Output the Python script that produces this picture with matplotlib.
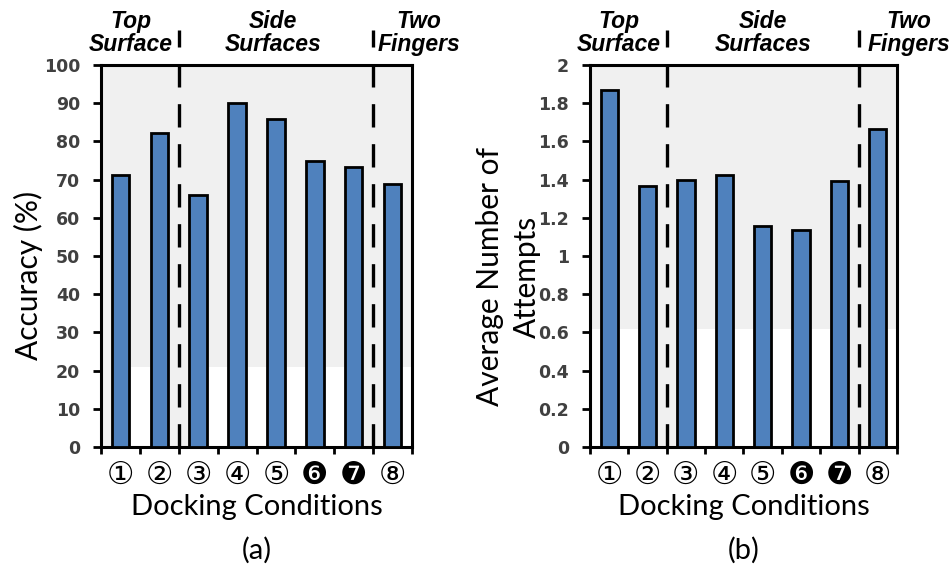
import matplotlib
matplotlib.use("Agg")
import matplotlib.pyplot as plt
import matplotlib.transforms as mtransforms
import numpy as np

conditions = ["①", "②", "③", "④", "⑤", "❻", "❼", "⑧"]
accuracy = [71.2, 82.3, 66.0, 90.2, 85.8, 75.0, 73.2, 68.8]
attempts = [1.87, 1.365, 1.397, 1.423, 1.16, 1.135, 1.395, 1.665]
groups = ["Top\nSurface", "Side\nSurfaces", "Two\nFingers"]
dividers = [1.5, 6.5]

bar_color = "#4F81BD"
grey = "#f0f0f0"
width = 0.45
x = np.arange(len(conditions))

W, H = 952, 565
fig = plt.figure(figsize=(W / 100, H / 100), dpi=100)
ax1 = fig.add_axes([0.1061, 0.2088, 0.3267, 0.676])
ax2 = fig.add_axes([0.6197, 0.2088, 0.3225, 0.676])


def ftext(px, py, s, **kw):
    # place text by pixel position (origin top-left)
    fig.text(px / W, 1 - py / H, s, ha="center", va="center", **kw)


def panel(ax, vals, ymax, yticks, shade_to, label_x, left_band, tag):
    ax.set_xlim(-0.5, len(vals) - 0.5)
    ax.set_ylim(0, ymax)
    ax.set_facecolor("white")
    # grey plot area above the cut, and grey strips between groups below it
    ax.axhspan(shade_to, ymax, color=grey, zorder=0, lw=0)
    for d in dividers:
        ax.fill_between([d - 0.5 + width / 2, d + 0.5 - width / 2], 0, shade_to,
                        color=grey, zorder=0, lw=0)
    if left_band:
        ax.fill_between([-0.5, -width / 2], 0, shade_to, color=grey, zorder=0, lw=0)

    ax.bar(x, vals, width=width, color=bar_color, edgecolor="black",
           linewidth=2.0, zorder=3)

    tr = mtransforms.blended_transform_factory(ax.transData, ax.transAxes)
    for d in dividers:
        ax.plot([d, d], [0, 1.092], transform=tr, color="black", lw=2.4,
                dashes=(7, 5), clip_on=False, zorder=4)
    for g, gx in zip(groups, label_x):
        ax.text(gx, 1.083, g, transform=tr, ha="center", va="center",
                fontsize=16.5, fontweight="bold", fontstyle="italic",
                family="Liberation Sans", linespacing=1.0)

    for s in ax.spines.values():
        s.set_linewidth(2.2)
    ax.set_xticks(np.arange(-0.5, len(vals), 1.0))
    ax.set_xticklabels([])
    ax.set_xticks(x, minor=True)
    ax.set_xticklabels(conditions, minor=True, fontsize=22, family="DejaVu Sans")
    ax.tick_params(axis="x", which="major", direction="out", length=5, width=2)
    ax.tick_params(axis="x", which="minor", length=0, pad=10)
    ax.set_yticks(yticks)
    ax.set_yticklabels([f"{t:g}" for t in yticks], fontsize=12.5,
                       fontweight="bold", color="#404040", family="DejaVu Sans")
    ax.tick_params(axis="y", direction="out", length=6, width=2, pad=9)
    ax.set_xlabel("Docking Conditions", fontsize=21, family="Lato", labelpad=3)
    ax.text(0.5, -0.27, tag, transform=ax.transAxes, ha="center", va="center",
            fontsize=21, family="Lato")


panel(ax1, accuracy, 100, list(range(0, 101, 10)), 21, [0.27, 3.92, 7.67],
      True, "(a)")
panel(ax2, attempts, 2, [round(v, 1) for v in np.arange(0, 2.01, 0.2)], 0.62,
      [0.26, 4.0, 7.8], False, "(b)")

ftext(28, 275, "Accuracy (%)", rotation=90, fontsize=21.5, family="Lato")
ftext(490, 277, "Average Number of", rotation=90, fontsize=21.5, family="Lato")
ftext(527, 277, "Attempts", rotation=90, fontsize=21.5, family="Lato")

fig.savefig("out.png", dpi=100)
